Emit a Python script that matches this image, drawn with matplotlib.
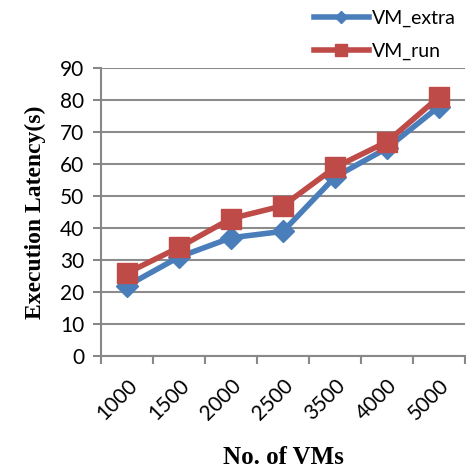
import matplotlib.pyplot as plt

vms = ['1000', '1500', '2000', '2500', '3500', '4000', '5000']
vm_extra = [22, 31, 37, 39, 56, 65, 78]
vm_run = [26, 34, 43, 47, 59, 67, 81]

plt.rcParams['font.family'] = ['Lato', 'DejaVu Sans']

fig = plt.figure(figsize=(4.66, 4.73), dpi=100)
ax = fig.add_axes([0.217, 0.247, 0.781, 0.609])

x = range(len(vms))
ax.plot(x, vm_extra, color='#4a7ebb', lw=4, marker='D', ms=11, label='VM_extra')
ax.plot(x, vm_run, color='#be4b48', lw=4, marker='s', ms=14, label='VM_run')

ax.set_xlim(-0.5, len(vms) - 0.5)
ax.set_ylim(0, 90)
ax.set_yticks(range(0, 91, 10))
ax.set_xticks(x)
ax.set_xticklabels(vms, rotation=45, ha='right', rotation_mode='anchor', fontsize=15)
ax.set_xticks([i - 0.5 for i in range(len(vms) + 1)], minor=True)
ax.tick_params(axis='x', which='major', length=0, pad=14)
ax.tick_params(axis='x', which='minor', length=6, color='#888888', width=1.5)
ax.tick_params(axis='y', labelsize=15, length=6, color='#888888', width=1.5, pad=6)
ax.grid(axis='y', color='#8c8c8c', lw=1.5)
ax.set_axisbelow(True)
for s in ['top', 'right']:
    ax.spines[s].set_visible(False)
for s in ['left', 'bottom']:
    ax.spines[s].set_color('#888888')
    ax.spines[s].set_linewidth(1.5)

ax.set_ylabel('Execution Latency(s)', family='Liberation Serif', fontweight='bold', fontsize=17, labelpad=10)
ax.set_xlabel('No. of VMs', family='Liberation Serif', fontweight='bold', fontsize=18, labelpad=16)

ax.legend(loc='upper right', bbox_to_anchor=(1.0, 1.0), bbox_transform=fig.transFigure,
          frameon=False, fontsize=14, handlelength=2.8, markerscale=0.6,
          borderaxespad=0.1, labelspacing=0.8, handletextpad=0.2)

plt.savefig('out.png', dpi=100)
